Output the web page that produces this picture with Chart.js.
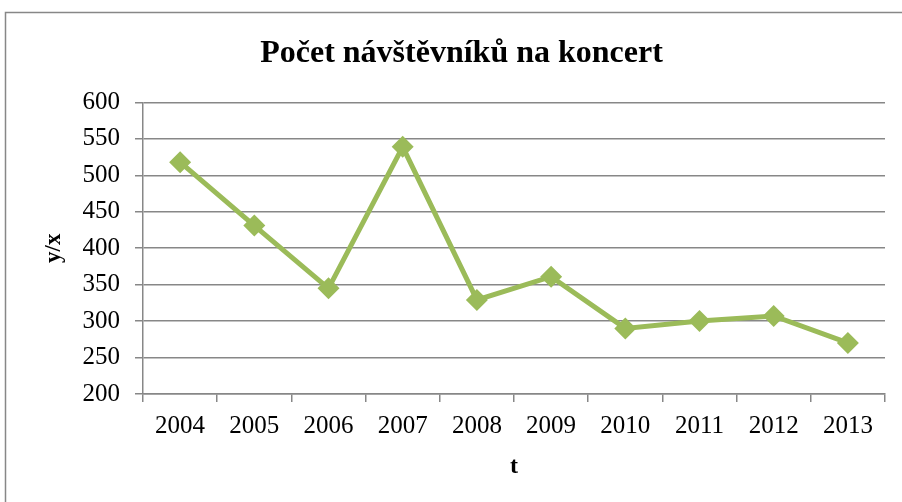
<!DOCTYPE html>
<html>
<head>
<meta charset="utf-8">
<script src="https://cdn.jsdelivr.net/npm/chart.js@4/dist/chart.umd.min.js"></script>
<style>
  html, body { margin: 0; padding: 0; background: #fff; overflow: hidden; }
  #wrap { position: absolute; left: 0; top: 0; width: 920px; height: 502px; }
</style>
</head>
<body>
<div id="wrap"><canvas id="chart" width="920" height="502"></canvas></div>
<script>
// chart data
const years = ['2004', '2005', '2006', '2007', '2008', '2009', '2010', '2011', '2012', '2013'];
const visitors = [518, 431, 345, 539, 329, 361, 290, 300, 307, 270];
const yTicks = [200, 250, 300, 350, 400, 450, 500, 550, 600];

const gridColor = '#878787';
const lineColor = '#9BBB59';
const serif = "'Liberation Serif', 'Times New Roman', serif";

// outer frame like the spreadsheet chart area
const framePlugin = {
    id: 'frame',
    beforeDraw(chart) {
        const ctx = chart.ctx;
        ctx.save();
        ctx.strokeStyle = gridColor;
        ctx.lineWidth = 1.5;
        ctx.strokeRect(5.5, 12.5, 912, 520);
        ctx.restore();
    }
};

const canvas = document.getElementById('chart');
new Chart(canvas.getContext('2d'), {
    type: 'line',
    data: {
        labels: years,
        datasets: [{
            data: visitors,
            borderColor: lineColor,
            backgroundColor: lineColor,
            borderWidth: 5,
            pointStyle: 'rectRot',
            pointRadius: 11,
            pointHoverRadius: 11,
            pointBorderWidth: 0,
            tension: 0
        }]
    },
    options: {
        responsive: false,
        animation: false,
        layout: { padding: { left: 38, right: 35, top: 12, bottom: 8 } },
        plugins: {
            legend: { display: false },
            tooltip: { enabled: false },
            title: {
                display: true,
                text: 'Počet návštěvníků na koncert',
                color: '#000',
                font: { family: serif, size: 32, weight: 'bold' },
                padding: { top: 23, bottom: 29 }
            }
        },
        scales: {
            x: {
                offset: true,
                afterFit(scale) { scale.height = 100; },
                grid: {
                    offset: true,
                    drawOnChartArea: false,
                    drawTicks: true,
                    tickLength: 8,
                    color: gridColor,
                    lineWidth: 1.5
                },
                border: { color: gridColor, width: 1.5 },
                ticks: {
                    color: '#000',
                    font: { family: serif, size: 25 },
                    padding: 9,
                    maxRotation: 0
                },
                title: {
                    display: true,
                    text: 't',
                    color: '#000',
                    font: { family: serif, size: 24, weight: 'bold' },
                    padding: { top: 0, bottom: 13 }
                }
            },
            y: {
                min: 200,
                max: 600,
                afterFit(scale) { scale.width = 143 - 38; },
                afterBuildTicks(scale) { scale.ticks = yTicks.map(v => ({ value: v })); },
                grid: {
                    color: gridColor,
                    lineWidth: 1.5,
                    tickLength: 8
                },
                border: { color: gridColor, width: 1.5 },
                ticks: {
                    color: '#000',
                    font: { family: serif, size: 25 },
                    padding: 15
                },
                title: {
                    display: true,
                    text: 'y/x',
                    color: '#000',
                    font: { family: serif, size: 23, weight: 'bold' },
                    padding: { top: 2, bottom: 4 }
                }
            }
        }
    },
    plugins: [framePlugin]
});
</script>
</body>
</html>
